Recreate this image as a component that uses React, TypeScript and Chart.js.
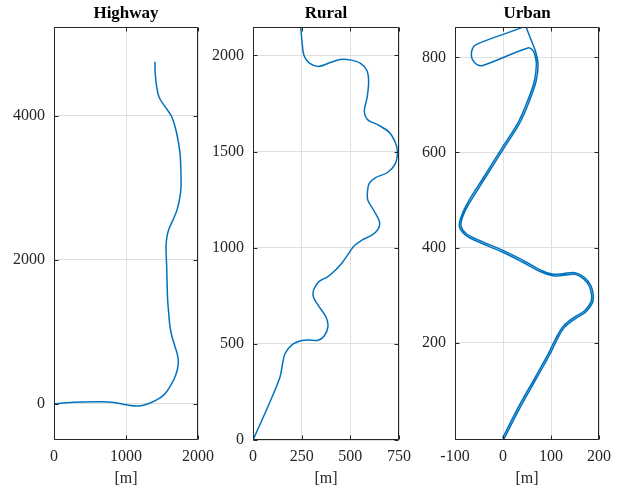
import React, { useEffect, useRef } from "react";
import { Chart, registerables } from "chart.js";

Chart.register(...registerables);

// ---------- data ----------
const highwayX = [0, 180, 400, 640, 830, 1010, 1170, 1300, 1426, 1530, 1611, 1690, 1727, 1715, 1681, 1640, 1611, 1590, 1578, 1572, 1565, 1556, 1570, 1600, 1657, 1710, 1750, 1764, 1762, 1750, 1704, 1635, 1542, 1460, 1426, 1405, 1403];
const highwayY = [0, 18, 28, 30, 22, -12, -28, 0, 56, 130, 241, 400, 565, 680, 796, 930, 1074, 1300, 1450, 1630, 1900, 2185, 2330, 2440, 2565, 2700, 2879, 3018, 3250, 3481, 3760, 3990, 4129, 4260, 4407, 4600, 4754];

const ruralX = [0, 69, 138, 152, 165, 200, 250, 290, 330, 365, 385, 375, 335, 310, 313, 340, 385, 420, 455, 490, 520, 560, 610, 642, 650, 620, 590, 588, 597, 630, 689, 730, 742, 732, 700, 640, 590, 572, 586, 594, 585, 551, 499, 448, 396, 336, 290, 262, 252, 245];
const ruralY = [0, 156, 325, 398, 450, 495, 517, 520, 518, 540, 590, 640, 700, 745, 785, 825, 850, 880, 918, 968, 1010, 1040, 1065, 1095, 1134, 1195, 1247, 1290, 1335, 1365, 1390, 1435, 1497, 1545, 1600, 1640, 1665, 1710, 1780, 1865, 1922, 1960, 1977, 1979, 1963, 1943, 1960, 2000, 2070, 2150];

const urbanX = [2, 35, 70, 98, 112, 128, 150, 172, 186, 188, 183, 170, 150, 125, 104, 80, 42, 0, -49, -76, -87, -85, -72, -36, 0, 35, 56, 69, 73, 68, 58, 49, 47, 35, -56, -65, -64, -54, -42, 52, 62, 67, 69.5, 65.5, 52.5, 32, -3, -39, -75, -88.5, -90.5, -78, -50.5, -1.5, 40.5, 78.5, 104, 125, 150, 168, 180, 184.5, 183, 170, 148, 126, 109, 95, 67, 32, -1];
const urbanY = [-3, 62, 125, 176, 205, 232, 250, 264, 283, 300, 320, 337, 347, 345, 344, 352, 373, 394, 415, 429, 444, 462, 490, 548, 606, 662, 711, 750, 785, 812, 838, 862, 868, 861, 827, 814, 796, 785, 783, 820, 815, 803, 785, 751, 712, 664, 608, 550, 492, 461, 443, 426, 411.5, 390.5, 369.5, 349, 340.5, 341.5, 343.5, 334, 318, 300, 285, 267, 253, 235, 207, 178, 127, 64, -1];

const highwayXTicks = [0, 1000, 2000];
const highwayYTicks = [0, 2000, 4000];
const ruralXTicks = [0, 250, 500, 750];
const ruralYTicks = [0, 500, 1000, 1500, 2000];
const urbanXTicks = [-100, 0, 100, 200];
const urbanYTicks = [200, 400, 600, 800];

const titles = ["Highway", "Rural", "Urban"];
const xLabel = "[m]";

// ---------- style ----------
const W = 626;
const H = 489;
const LINE = "#0072BD";
const AXIS = "#262626";
const GRID = "#dfdfdf";
const FONT = "'Liberation Serif', 'Times New Roman', serif";

const matlabBox = {
  id: "matlabBox",
  afterDraw(chart: any) {
    const { ctx, chartArea: a, scales } = chart;
    const l = Math.round(a.left) + 0.5;
    const r = Math.round(a.right) - 0.5;
    const t = Math.round(a.top) + 0.5;
    const b = Math.round(a.bottom) - 0.5;
    ctx.save();
    ctx.strokeStyle = AXIS;
    ctx.lineWidth = 1;
    ctx.beginPath();
    ctx.rect(l, t, r - l, b - t);
    const len = 4;
    scales.x.ticks.forEach((tk: any) => {
      const px = Math.round(scales.x.getPixelForValue(tk.value)) + 0.5;
      ctx.moveTo(px, b);
      ctx.lineTo(px, b - len);
      ctx.moveTo(px, t);
      ctx.lineTo(px, t + len);
    });
    scales.y.ticks.forEach((tk: any) => {
      const py = Math.round(scales.y.getPixelForValue(tk.value)) + 0.5;
      ctx.moveTo(l, py);
      ctx.lineTo(l + len, py);
      ctx.moveTo(r, py);
      ctx.lineTo(r - len, py);
    });
    ctx.stroke();
    ctx.restore();
  },
};

interface PanelCfg {
  title: string;
  xs: number[];
  ys: number[];
  xMin: number;
  xMax: number;
  yMin: number;
  yMax: number;
  xTicks: number[];
  yTicks: number[];
  left: number;
  right: number;
}

const YW = 50;

function makeChart(canvas: HTMLCanvasElement, c: PanelCfg) {
  const tickFont = { family: FONT, size: 16 };
  return new Chart(canvas, {
    type: "scatter",
    data: {
      datasets: [
        {
          data: c.xs.map((x, i) => ({ x, y: c.ys[i] })),
          showLine: true,
          borderColor: LINE,
          borderWidth: 1.5,
          pointRadius: 0,
          tension: 0.35,
          fill: false,
        },
      ],
    },
    options: {
      responsive: false,
      animation: false,
      events: [],
      layout: {
        padding: { left: c.left - YW, right: W - c.right, top: 0, bottom: 0 },
      },
      plugins: {
        legend: { display: false },
        tooltip: { enabled: false },
        title: {
          display: true,
          text: c.title,
          fullSize: false,
          color: "#000",
          font: { family: FONT, size: 17, weight: "bold" },
          padding: { top: 3.6, bottom: 3 },
        },
      },
      scales: {
        x: {
          type: "linear",
          min: c.xMin,
          max: c.xMax,
          afterBuildTicks: (s: any) => {
            s.ticks = c.xTicks.map((v) => ({ value: v }));
          },
          afterFit: (s: any) => {
            s.height = H - 440;
            s.paddingLeft = 0;
            s.paddingRight = 0;
          },
          ticks: {
            font: tickFont,
            color: AXIS,
            padding: 7,
            maxRotation: 0,
            autoSkip: false,
            callback: (v: any) => String(v),
          },
          grid: { color: GRID, drawTicks: false, lineWidth: 1 },
          border: { display: false },
          title: {
            display: true,
            text: xLabel,
            color: AXIS,
            font: { family: FONT, size: 16 },
            padding: { top: 0, bottom: 1 },
          },
        },
        y: {
          type: "linear",
          min: c.yMin,
          max: c.yMax,
          afterBuildTicks: (s: any) => {
            s.ticks = c.yTicks.map((v) => ({ value: v }));
          },
          afterFit: (s: any) => {
            s.width = YW;
            s.paddingTop = 0;
            s.paddingBottom = 0;
          },
          ticks: {
            font: tickFont,
            color: AXIS,
            padding: 9,
            autoSkip: false,
            callback: (v: any) => String(v),
          },
          grid: { color: GRID, drawTicks: false, lineWidth: 1 },
          border: { display: false },
        },
      },
    },
    plugins: [matlabBox],
  } as any);
}

const panels: PanelCfg[] = [
  { title: titles[0], xs: highwayX, ys: highwayY, xMin: 0, xMax: 2000, yMin: -500, yMax: 5236, xTicks: highwayXTicks, yTicks: highwayYTicks, left: 54, right: 198 },
  { title: titles[1], xs: ruralX, ys: ruralY, xMin: 0, xMax: 750, yMin: 0, yMax: 2148, xTicks: ruralXTicks, yTicks: ruralYTicks, left: 253, right: 399 },
  { title: titles[2], xs: urbanX, ys: urbanY, xMin: -100, xMax: 200, yMin: -5, yMax: 864, xTicks: urbanXTicks, yTicks: urbanYTicks, left: 455, right: 599 },
];

export default function App() {
  const r0 = useRef<HTMLCanvasElement>(null);
  const r1 = useRef<HTMLCanvasElement>(null);
  const r2 = useRef<HTMLCanvasElement>(null);

  useEffect(() => {
    const refs = [r0, r1, r2];
    const charts = refs.map((r, i) => makeChart(r.current as HTMLCanvasElement, panels[i]));
    return () => charts.forEach((ch) => ch.destroy());
  }, []);

  const style: React.CSSProperties = { position: "absolute", left: 0, top: 0, width: W, height: H };
  return (
    <div style={{ position: "absolute", left: 0, top: 0, width: W, height: H, background: "#fff" }}>
      <canvas ref={r0} width={W} height={H} style={style} />
      <canvas ref={r1} width={W} height={H} style={style} />
      <canvas ref={r2} width={W} height={H} style={style} />
    </div>
  );
}
